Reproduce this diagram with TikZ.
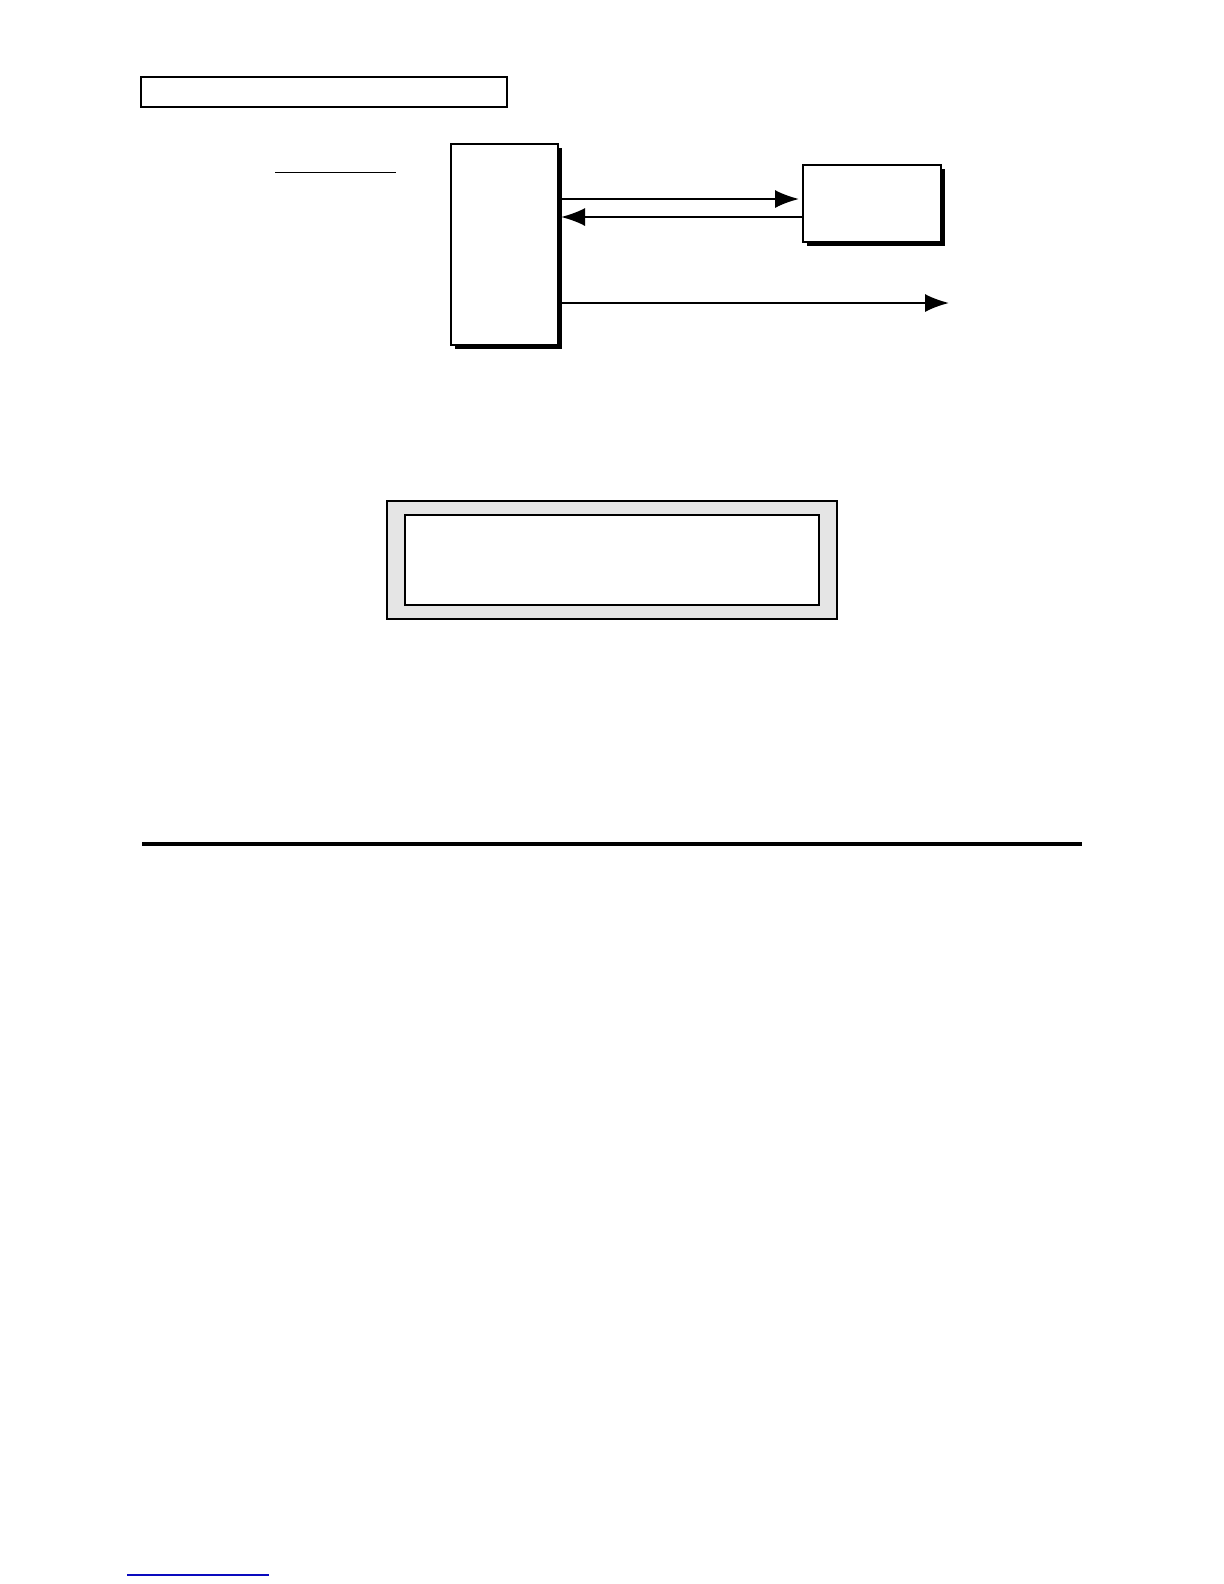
\documentclass[tikz,border=0pt]{standalone}
\usetikzlibrary{arrows.meta,shadows}
\definecolor{panelgray}{HTML}{E5E5E5}
\definecolor{linkblue}{RGB}{10,10,190}
\tikzset{
  plainbox/.style={draw,line width=1bp,inner sep=0pt,fill=white},
  shadowbox/.style={plainbox,drop shadow={shadow xshift=2.2bp,shadow yshift=-2.2bp,fill=black,opacity=1}},
  flow/.style={-{Latex[length=12bp,width=9bp]},line width=1bp}
}
\begin{document}
\begin{tikzpicture}[x=0.5bp,y=-0.5bp]
        \useasboundingbox (0,0) rectangle (1224,1584);
        % header and caption line
        \node[plainbox,minimum width=183bp,minimum height=15bp] (title) at (324,92) {};
        \draw[line width=0.6bp] (275,172.5) -- (396,172.5);
        % blocks
        \node[shadowbox,minimum width=53.5bp,minimum height=100.5bp] (unit) at (504.5,244.5) {};
        \node[shadowbox,minimum width=69bp,minimum height=38.5bp] (peer) at (872,203.5) {};
        \coordinate (ya) at (0,199);
        \coordinate (yb) at (0,217);
        \coordinate (out) at (949,303);
        \draw[flow,shorten >=1.5bp] (unit.east |- ya) -- (peer.west |- ya);
        \draw[flow,shorten >=1bp] (peer.west |- yb) -- (unit.east |- yb);
        \draw[flow] (unit.east |- out) -- (out);
        % framed panel
        \node[draw,line width=1bp,fill=panelgray,inner sep=0pt,minimum width=225bp,minimum height=59bp] (panel) at (612,560) {};
        \node[plainbox,minimum width=207bp,minimum height=45bp] (slot) at (panel.center) {};
        % rules
        \draw[line width=2bp] (142,843.5) -- (1082,843.5);
        \draw[linkblue,line width=0.8bp] (127,1575) -- (269,1575);
      \end{tikzpicture}
\end{document}
